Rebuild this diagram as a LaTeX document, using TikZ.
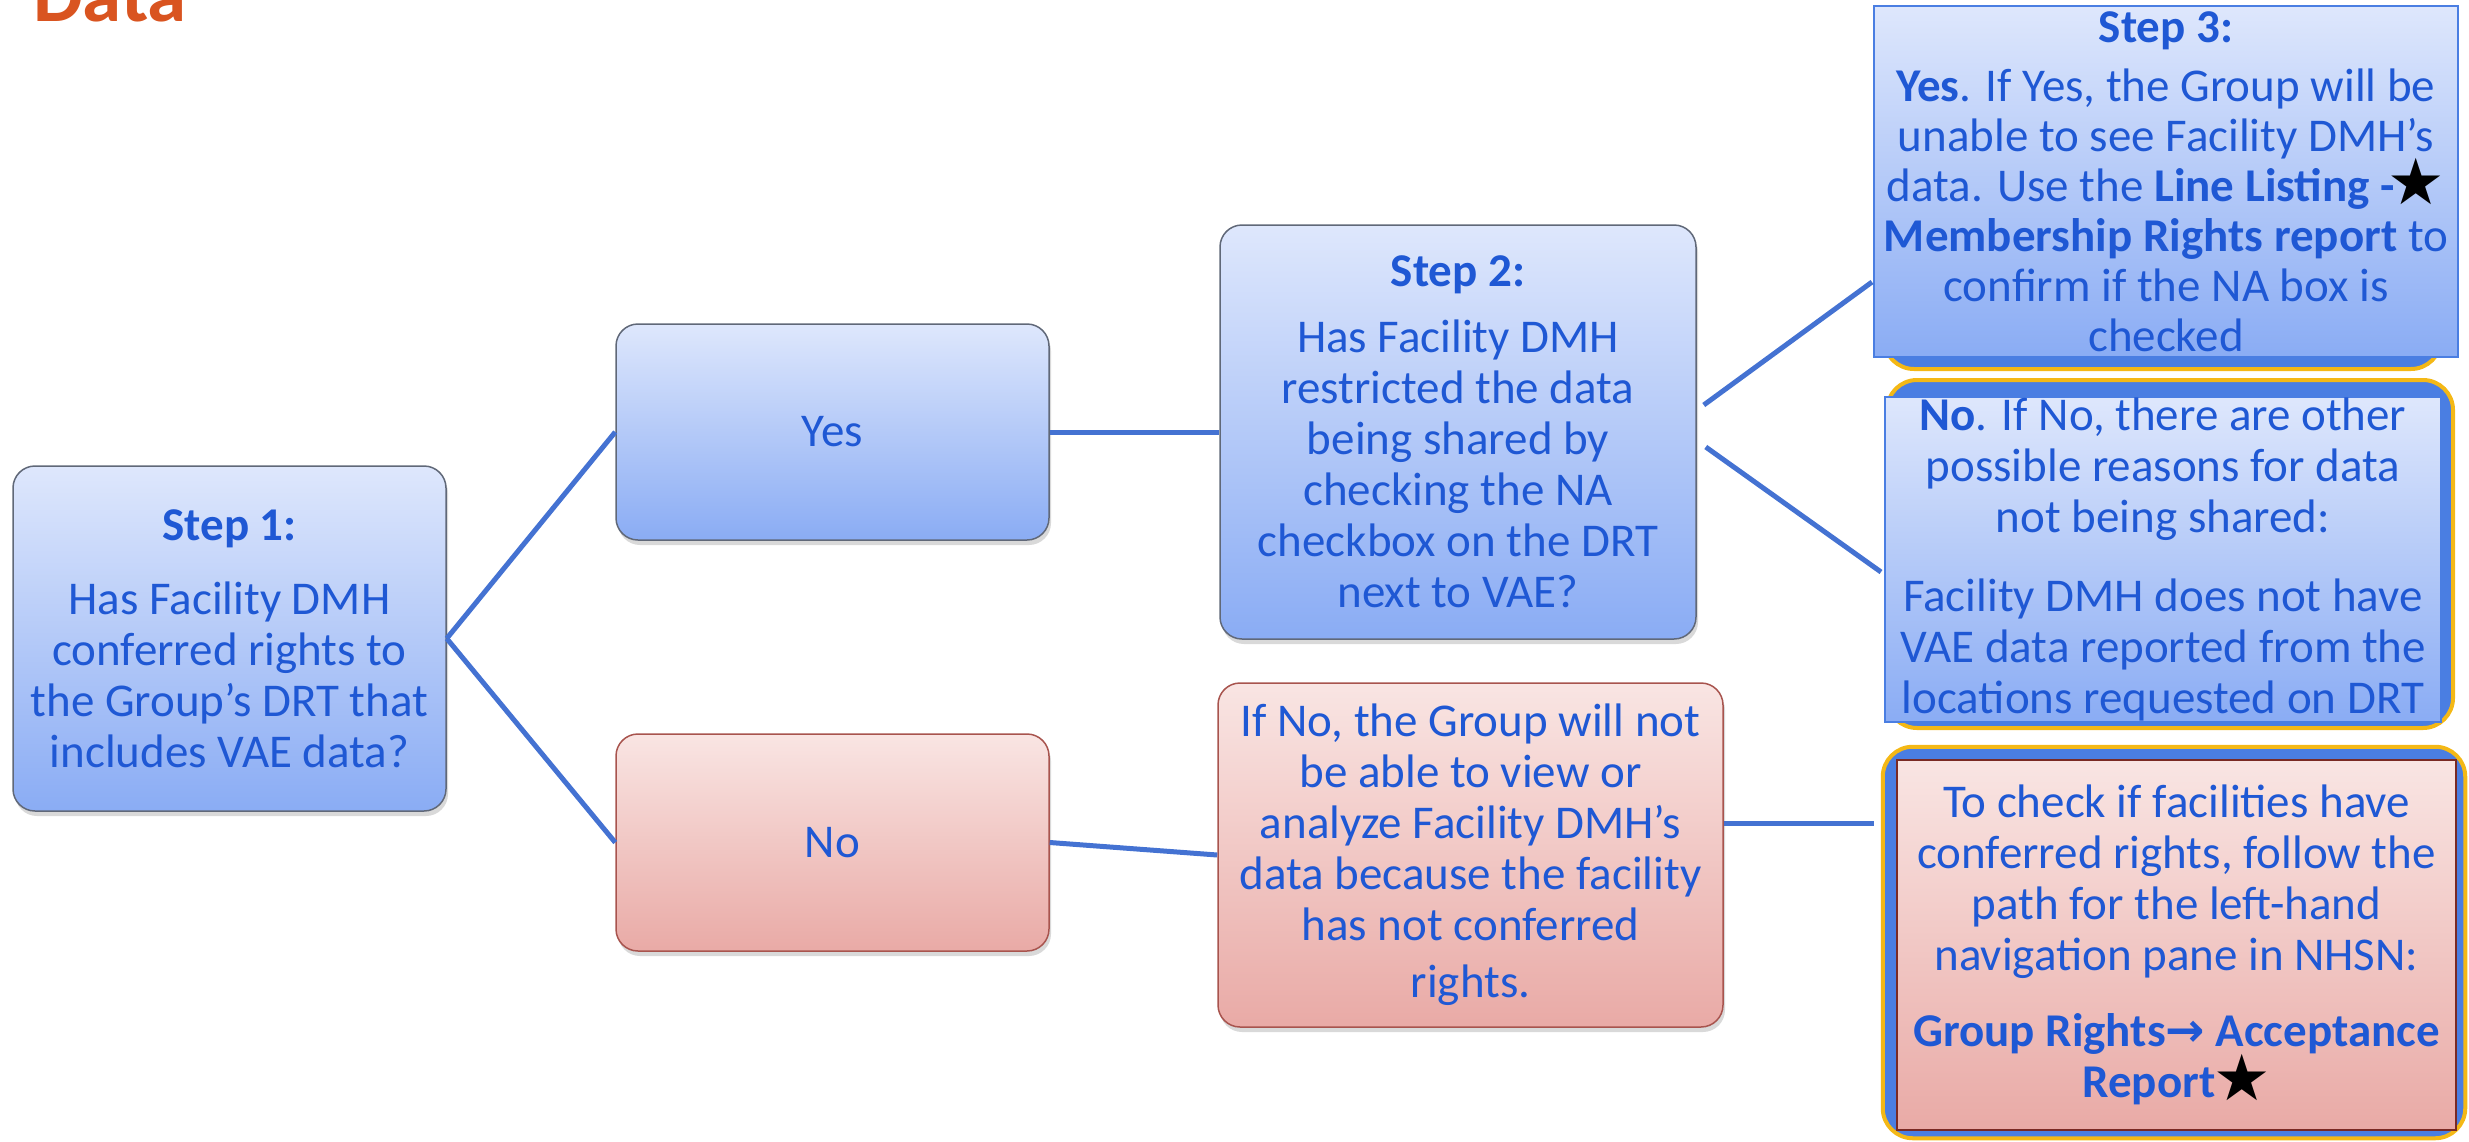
\documentclass[tikz,border=0pt]{standalone}
\usepackage{fontspec}
\setmainfont{Carlito}
\newfontfamily\symfont{DejaVu Sans}
\usepackage{tikz}
\usetikzlibrary{shadows,backgrounds}
\definecolor{txtblue}{RGB}{31,88,212}
\definecolor{blueA}{RGB}{222,231,252}
\definecolor{blueB}{RGB}{138,172,244}
\definecolor{redA}{RGB}{249,229,227}
\definecolor{redB}{RGB}{233,170,166}
\definecolor{boxline}{RGB}{96,104,120}
\definecolor{redline}{RGB}{168,84,78}
\definecolor{darkred}{RGB}{122,42,36}
\definecolor{frameblue}{RGB}{74,126,226}
\definecolor{gold}{RGB}{244,184,22}
\definecolor{linkblue}{RGB}{68,114,210}
\definecolor{titleorange}{RGB}{217,84,32}
\newcommand{\STAR}{\raisebox{-3pt}[0pt][0pt]{\fontsize{64}{51}\symfont\textcolor{black}{★}}}
\newcommand{\ARR}{{\symfont\bfseries →}}

\begin{document}
\begin{tikzpicture}[x=1pt,y=-1pt,
  every node/.style={text=txtblue,font=\fontsize{47}{51}\selectfont,align=center,inner sep=0pt},
  bluebox/.style={draw=boxline,line width=1.5pt,rounded corners=22pt,top color=blueA,bottom color=blueB,
    drop shadow={shadow xshift=2pt,shadow yshift=-5pt,opacity=0.3}},
  redbox/.style={draw=redline,line width=1.5pt,rounded corners=22pt,top color=redA,bottom color=redB,
    drop shadow={shadow xshift=2pt,shadow yshift=-5pt,opacity=0.3}},
  sharpbox/.style={draw=frameblue,line width=2pt,top color=blueA,bottom color=blueB},
  pinkbox/.style={draw=darkred,line width=2.5pt,top color=redA,bottom color=redB},
  frame/.style={draw=gold,line width=4pt,fill=frameblue,rounded corners=30pt},
  link/.style={draw=linkblue,line width=5pt}]

  \useasboundingbox (0,0) rectangle (2469,1141);
  \clip (0,0) rectangle (2469,1141);

  \node[text=titleorange,font=\fontsize{79}{80}\selectfont\bfseries,anchor=base west] (title) at (33,21) {Data};

  % left column
  \node[bluebox,minimum width=433pt,minimum height=345pt] (s1) at (229.5,638.5)
    {\textbf{Step 1:}\\[23pt]Has Facility DMH\\conferred rights to\\the Group’s DRT that\\includes VAE data?};
  \node[bluebox,minimum width=433pt,minimum height=216pt] (yes) at (832.5,432) {Yes};
  \node[redbox,minimum width=433pt,minimum height=217pt] (no) at (832.5,842.5) {No};

  % middle column
  \node[bluebox,minimum width=476pt,minimum height=414pt] (s2) at (1458,432)
    {\textbf{Step 2:}\\[15pt]Has Facility DMH\\restricted the data\\being shared by\\checking the NA\\checkbox on the DRT\\next to VAE?};
  \node[redbox,minimum width=505pt,minimum height=344pt] (ifno) at (1470.5,855)
    {If No, the Group will not\\be able to view or\\analyze Facility DMH’s\\data because the facility\\has not conferred\\[6pt]rights.};

  % right column
  \node[sharpbox,minimum width=584pt,minimum height=351pt,font=\fontsize{47}{50}\selectfont] (s3) at (2166,181.5)
    {\textbf{Step 3:}\\[9pt]\textbf{Yes}. If Yes, the Group will be\\unable to see Facility DMH’s\\data. Use the \textbf{Line Listing -}\hspace{-7pt}\STAR\\\textbf{Membership Rights report} to\\confirm if the NA box is\\checked};
  \node[sharpbox,minimum width=556pt,minimum height=325pt] (nob) at (2163,559.5)
    {\textbf{No}. If No, there are other\\possible reasons for data\\not being shared:\\[28pt]Facility DMH does not have\\VAE data reported from the\\locations requested on DRT};
  \node[pinkbox,minimum width=559pt,minimum height=370pt] (chk) at (2176.5,945)
    {To check if facilities have\\conferred rights, follow the\\path for the left-hand\\navigation pane in NHSN:\\[25pt]\textbf{Group Rights}\ARR\ \textbf{Acceptance}\\\textbf{Report}\hspace{-2pt}\STAR};

  \begin{scope}[on background layer]
    \draw[frame] ([shift={(11pt,-25pt)}]s3.north west) rectangle ([shift={(-18pt,-11pt)}]s3.south east);
    \draw[frame] ([shift={(3pt,16pt)}]nob.north west) rectangle ([shift={(11pt,-5pt)}]nob.south east);
    \draw[frame] ([shift={(-13pt,12pt)}]chk.north west) rectangle ([shift={(8pt,-7pt)}]chk.south east);
  \end{scope}

  \draw[link] (s1.east) -- (yes.west); %% s1->yes
  \draw[link] (s1.east) -- (no.west); %% s1->no
  \draw[link] (yes.east) -- (s2.west); %% yes->s2
  \draw[link] (no.east) -- (ifno.west); %% no->ifno
  \draw[link] ([shift={(7pt,27pt)}]s2.east) -- ([shift={(-1pt,-100.5pt)}]s3.west); %% s2->s3
  \draw[link] ([shift={(9pt,-15pt)}]s2.east) -- ([shift={(-3pt,-12.5pt)}]nob.west); %% s2->nob
  \draw[link] ([shift={(0pt,32pt)}]ifno.east) -- ([shift={(-22pt,122pt)}]chk.west); %% ifno->chk
\end{tikzpicture}
\end{document}
